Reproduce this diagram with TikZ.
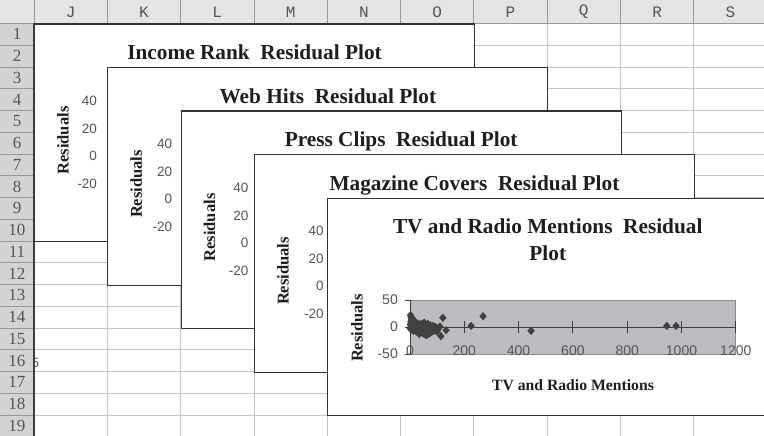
\documentclass[tikz,border=0pt]{standalone}
\usepackage{fontspec}
\setmainfont{Liberation Serif}
\newfontfamily\arialf{Liberation Sans}
\newfontfamily\monof{Liberation Mono}
\usepackage{tikz}
\usetikzlibrary{calc}
\usetikzlibrary{shapes.geometric}
\usetikzlibrary{positioning}

\definecolor{hdrgray}{HTML}{E4E4E4}
\definecolor{rowgray}{HTML}{D3D3D3}
\definecolor{gridgray}{HTML}{C6C6C6}
\definecolor{hdrline}{HTML}{989898}
\definecolor{framegray}{HTML}{333333}
\definecolor{plotgray}{HTML}{BDBDC1}
\definecolor{plotedge}{HTML}{8C8C8C}
\definecolor{axisgray}{HTML}{3C3C3C}
\definecolor{markgray}{HTML}{404040}
\definecolor{ticktext}{HTML}{555555}
\definecolor{titletext}{HTML}{1E1E1E}

\tikzset{>=latex}
\tikzstyle{gridline} = [draw=gridgray, line width=0.8pt]
\tikzstyle{hdrsep} = [draw=hdrline, line width=0.8pt]
\tikzstyle{colhdr} = [inner sep=0pt, text=ticktext, font=\monof\fontsize{16}{16}\selectfont]
\tikzstyle{rowhdr} = [inner sep=0pt, text=ticktext, font=\fontsize{17}{17}\selectfont]
\tikzstyle{chartbox} = [rectangle, draw=framegray, line width=1.1pt, fill=white, inner sep=0pt, minimum width=440pt, minimum height=217.5pt, anchor=north west]
\tikzstyle{charttitle} = [inner sep=0pt, anchor=base, text=titletext, font=\bfseries\fontsize{21.3}{24}\selectfont]
\tikzstyle{axisname} = [inner sep=0pt, text=titletext, font=\bfseries\fontsize{16.5}{18}\selectfont]
\tikzstyle{ticklabel} = [inner sep=0pt, text=ticktext, font=\arialf\fontsize{13.5}{15}\selectfont]
\tikzstyle{resid} = [diamond, fill=markgray, inner sep=0pt, minimum width=7.5pt, minimum height=8.5pt]

\begin{document}
\begin{tikzpicture}[x=1pt, y=-1pt]
\useasboundingbox (0,0) rectangle (764,436);
% sheet background
\fill[white] (0,0) rectangle (764,436);
\fill[hdrgray] (0,0) rectangle (764,23.5);
\node[ticklabel] (cut5) at (35.5,363) {5};
\fill[rowgray] (0,23.5) rectangle (34,436);
\foreach \k in {1,...,9} {
  \draw[hdrsep] ({34+73.3*\k},0) -- ({34+73.3*\k},23.5);
  \draw[gridline] ({34+73.3*\k},23.5) -- ({34+73.3*\k},436);
}
\foreach \k in {1,...,18} {
  \draw[hdrsep] (0,{23.5+21.75*\k}) -- (34,{23.5+21.75*\k});
  \draw[gridline] (34,{23.5+21.75*\k}) -- (764,{23.5+21.75*\k});
}
\draw[hdrsep] (0,23.5) -- (764,23.5);
\draw[hdrsep] (34,0) -- (34,23.5);
\draw[draw=axisgray, line width=1.6pt] (34,23.5) -- (34,436);
\foreach \c [count=\k from 0] in {J,K,L,M,N,O,P,Q,R,S}
  \node[colhdr] (col\c) at ({34+73.3*(\k+0.5)},12) {\c};
\foreach \r in {1,...,19}
  \node[rowhdr] (row\r) at (17,{23.5+21.75*(\r-0.5)}) {\r};

% stacked residual charts
\foreach \i/\ttl/\tx in {0/Income Rank~ Residual Plot/63, 1/Web Hits~ Residual Plot/65, 2/Press Clips~ Residual Plot/68, 3/Magazine Covers~ Residual Plot/70} {
  \node[chartbox] (c\i) at ({34+73.3*\i},{23.5+43.5*\i}) {};
  \node[charttitle] (t\i) at ([yshift=-36pt]c\i.north) {\ttl};
  \node[axisname, rotate=90] (r\i) at ([xshift=29pt, yshift=-117pt]c\i.north west) {Residuals};
  \foreach \v/\off in {40/77, 20/105, 0/132, -20/160}
    \node[ticklabel, anchor=east] (y\i\v) at ([xshift=\tx pt, yshift=-\off pt]c\i.north west) {\v};
}

% front chart
\node[chartbox] (c4) at (327.2,197.5) {};
\node[charttitle] (t4) at ([yshift=-36pt]c4.north) {TV and Radio Mentions~ Residual};
\node[charttitle] (t4b) at ([yshift=-27pt]t4.base) {Plot};
\node[axisname, rotate=90] (r4) at (357,328) {Residuals};
\node[axisname, font=\bfseries\fontsize{15.7}{18}\selectfont] (xname) at (573,385) {TV and Radio Mentions};
\begin{scope}[shift={(410,327)}, x=0.2715pt, y=0.54pt]
  \draw[fill=plotgray, draw=plotedge, line width=0.8pt] (0,-50) rectangle (1200,50);
  \draw[draw=axisgray, line width=1pt] (0,-50) -- (0,50);
  \draw[draw=axisgray, line width=1pt] (0,0) -- (1200,0);
  \foreach \v in {50,0,-50} {
    \draw[draw=axisgray, line width=1pt] (0,\v) -- ++(-5pt,0);
    \node[ticklabel, anchor=east, font=\arialf\fontsize{14}{15}\selectfont] (yl\v) at ([xshift=-12pt]0,\v) {\v};
  }
  \foreach \v in {0,200,400,600,800,1000,1200} {
    \draw[draw=axisgray, line width=1pt] ([yshift=-6pt]\v,0) -- ([yshift=6pt]\v,0);
    \node[ticklabel, font=\arialf\fontsize{14}{15}\selectfont] (xl\v) at ([yshift=3pt]\v,-50) {\v};
  }
  \foreach \px/\py [count=\k] in {2/22, 4/18, 6/14, 3/10, 8/8, 1/5, 5/2, 10/-2, 7/-5, 12/4, 15/12, 18/6, 14/-3, 20/0, 9/16, 16/-6,
      1/-3, 3/0, 6/6, 11/10, 13/-7, 17/2, 19/-4, 24/-2, 27/6, 31/-2, 36/-6, 44/-9, 50/-4, 54/0, 63/-10, 67/2, 73/-4, 80/-9, 90/-1,
      22/8, 25/3, 28/-4, 30/-8, 32/5, 35/0, 38/-10, 40/6, 42/-6, 45/2, 48/-12, 26/-9, 34/-13,
      52/8, 55/-14, 58/4, 60/-5, 62/-15, 65/6, 68/-8, 70/0, 72/-12, 75/3, 78/-6, 56/-10,
      82/-2, 85/2, 88/-7, 92/-4, 95/0, 100/-9, 105/-3, 110/1,
      121/17, 114/-17, 133/-6, 225/2, 269/20, 446/-7, 946/2, 980/2}
    \node[resid] (p\k) at (\px,\py) {};
\end{scope}
\end{tikzpicture}
\end{document}
